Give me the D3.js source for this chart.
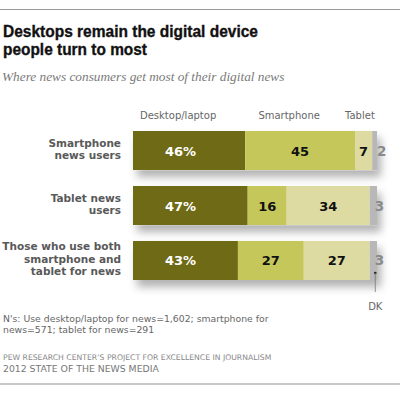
<!DOCTYPE html>
<html>
<head>
<meta charset="utf-8">
<script src="https://cdn.jsdelivr.net/npm/d3@7"></script>
<style>
  body { margin: 0; background: #fff; }
  svg { display: block; }
</style>
</head>
<body>
<svg id="chart" width="400" height="393"></svg>
<script>
// rows (multi-line labels) and the four answer shares for each
var groups = [
    ["Smartphone", "news users"],
    ["Tablet news", "users"],
    ["Those who use both", "smartphone and", "tablet for news"]
];
var devices = ["Desktop/laptop", "Smartphone", "Tablet", "DK"];
var desktop = [46, 47, 43];
var smartphone = [45, 16, 27];
var tablet = [7, 34, 27];
var dk = [2, 3, 3];
var colors = ["#6f6a15", "#c5c75b", "#dddba2", "#b8b8b8"];
var note = ["N's: Use desktop/laptop for news=1,602; smartphone for", "news=571; tablet for news=291"];

var svg = d3.select("#chart");

// table for the stack layout
var rows = groups.map(function (g, i) {
    return { i: i, "Desktop/laptop": desktop[i], Smartphone: smartphone[i], Tablet: tablet[i], DK: dk[i] };
});
var series = d3.stack().keys(devices)(rows);

var x = d3.scaleLinear().domain([0, 100]).range([133, 377]);
var y = d3.scaleBand().domain(d3.range(groups.length)).range([131, 280]).paddingInner(0.29);

// top and bottom rules
svg.append("line").attr("x1", 0).attr("x2", 400).attr("y1", 9.5).attr("y2", 9.5)
    .attr("stroke", "#9a9a9a").attr("stroke-width", 1);
svg.append("line").attr("x1", 0).attr("x2", 400).attr("y1", 384).attr("y2", 384)
    .attr("stroke", "#c8c8c8").attr("stroke-width", 2);

// title + subtitle (squeezed a bit to mimic the heavy condensed face)
var titleLines = [["Desktops remain the digital device", 255], ["people turn to most", 144]];
svg.append("g").selectAll("text").data(titleLines).join("text")
    .attr("x", 3).attr("y", function (d, i) { return 37 + i * 18; })
    .attr("textLength", function (d) { return d[1]; })
    .attr("lengthAdjust", "spacingAndGlyphs")
    .style("font-family", "'Liberation Sans', Arial, sans-serif").style("font-weight", "bold")
    .style("font-size", "17px").attr("fill", "#111")
    .attr("stroke", "#111").attr("stroke-width", 0.35)
    .text(function (d) { return d[0]; });

svg.append("text").attr("x", 2).attr("y", 81)
    .style("font-family", "'Liberation Serif', Georgia, serif").style("font-style", "italic")
    .style("font-size", "13.3px").attr("fill", "#7a7a7a")
    .text("Where news consumers get most of their digital news");

// drop shadow for the bars
var f = svg.append("defs").append("filter").attr("id", "shadow")
    .attr("x", "-10%").attr("y", "-20%").attr("width", "130%").attr("height", "170%");
f.append("feDropShadow").attr("dx", 4).attr("dy", 7).attr("stdDeviation", 4.5)
    .attr("flood-color", "#000").attr("flood-opacity", 0.3);

// a shadow rect behind each whole bar
svg.append("g").selectAll("rect").data(rows).join("rect")
    .attr("x", x(0)).attr("y", function (d) { return y(d.i); })
    .attr("width", function (d) { return x(100) - x(0); })
    .attr("height", y.bandwidth())
    .attr("fill", "#fff").attr("filter", "url(#shadow)");

// segments
svg.append("g").selectAll("g").data(series).join("g")
    .attr("fill", function (d, i) { return colors[i]; })
    .selectAll("rect").data(function (d) { return d; }).join("rect")
    .attr("x", function (d) { return x(d[0]); })
    .attr("y", function (d) { return y(d.data.i); })
    .attr("width", function (d) { return x(d[1]) - x(d[0]); })
    .attr("height", y.bandwidth());

// column headers
var headerPos = [18.5, 64, 93];
svg.append("g").selectAll("text").data(devices.slice(0, 3)).join("text")
    .attr("x", function (d, i) { return x(headerPos[i]); })
    .attr("y", 119)
    .attr("text-anchor", "middle")
    .style("font-family", "'DejaVu Sans', Verdana, sans-serif").style("font-size", "10px")
    .attr("fill", "#666")
    .text(function (d) { return d; });

// row labels
var lineH = 12.5;
svg.append("g").selectAll("text").data(groups).join("text")
    .attr("text-anchor", "end")
    .style("font-family", "'DejaVu Sans', Verdana, sans-serif").style("font-weight", "bold")
    .style("font-size", "10.5px").attr("fill", "#595959")
    .each(function (d, i) {
        var top = y(i) + y.bandwidth() / 2 - 1.5 - (d.length - 1) * lineH / 2 + 4;
        d3.select(this).selectAll("tspan").data(d).join("tspan")
            .attr("x", 121)
            .attr("y", function (l, j) { return top + j * lineH; })
            .text(function (l) { return l; });
    });

// values in segments (skip DK, drawn outside)
var valueFont = "'DejaVu Sans', Verdana, sans-serif";
series.slice(0, 3).forEach(function (s, k) {
    svg.append("g").selectAll("text").data(s).join("text")
        .attr("x", function (d) { return k === 0 ? x(19.5) : (x(d[0]) + x(d[1])) / 2; })
        .attr("y", function (d) { return y(d.data.i) + y.bandwidth() / 2 + 5; })
        .attr("text-anchor", "middle")
        .style("font-family", valueFont).style("font-weight", "bold").style("font-size", "13px")
        .attr("fill", k === 0 ? "#fff" : "#111")
        .text(function (d) { return k === 0 ? (d[1] - d[0]) + "%" : (d[1] - d[0]); });
});
svg.append("g").selectAll("text").data(series[3]).join("text")
    .attr("x", function (d) { return x(d[0]) + 5; })
    .attr("y", function (d) { return y(d.data.i) + y.bandwidth() / 2 + 5; })
    .style("font-family", valueFont).style("font-weight", "bold").style("font-size", "13.5px")
    .attr("fill", "#8a8a8a")
    .text(function (d) { return d[1] - d[0]; });

// DK callout
var last = groups.length - 1;
var dkX = x(99.3);
svg.append("circle").attr("cx", dkX).attr("cy", y(last) + y.bandwidth() - 7).attr("r", 1.3).attr("fill", "#222");
svg.append("line").attr("x1", dkX).attr("x2", dkX)
    .attr("y1", y(last) + y.bandwidth() - 7).attr("y2", 292)
    .attr("stroke", "#777").attr("stroke-width", 0.8);
svg.append("text").attr("x", dkX).attr("y", 310).attr("text-anchor", "middle")
    .style("font-family", "'DejaVu Sans', Verdana, sans-serif").style("font-size", "10px")
    .attr("fill", "#666").text("DK");

// note and source
svg.append("g").selectAll("text").data(note).join("text")
    .attr("x", 3).attr("y", function (d, i) { return 322 + i * 11; })
    .style("font-family", "'DejaVu Sans', Verdana, sans-serif").style("font-size", "9.3px")
    .attr("fill", "#666").text(function (d) { return d; });

svg.append("text").attr("x", 3).attr("y", 360)
    .style("font-family", "'DejaVu Sans', Verdana, sans-serif").style("font-size", "7.7px")
    .attr("fill", "#888").text("PEW RESEARCH CENTER\u2019S PROJECT FOR EXCELLENCE IN JOURNALISM");
svg.append("text").attr("x", 3).attr("y", 372)
    .style("font-family", "'DejaVu Sans', Verdana, sans-serif").style("font-size", "9.3px")
    .attr("fill", "#777").text("2012 STATE OF THE NEWS MEDIA");
</script>
</body>
</html>
